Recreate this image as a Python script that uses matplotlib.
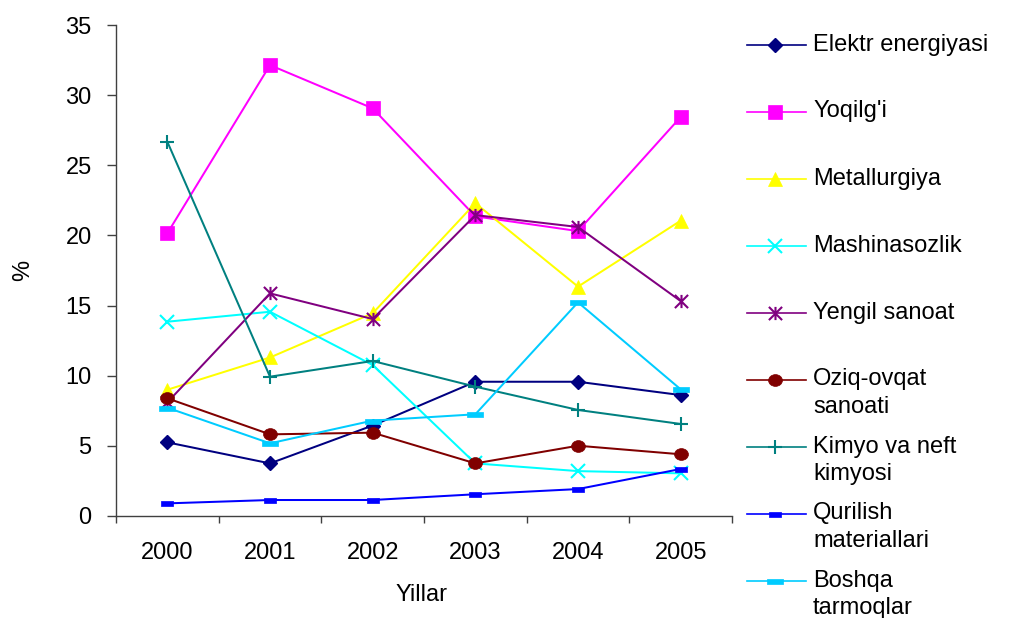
import matplotlib
matplotlib.use("Agg")
import matplotlib.pyplot as plt
from matplotlib.path import Path
import numpy as np

plt.rcParams["font.family"] = ["Liberation Sans", "DejaVu Sans"]

# Share of industry branches by year, %
years = ["2000", "2001", "2002", "2003", "2004", "2005"]
elektr = [5.25, 3.75, 6.45, 9.57, 9.57, 8.62]
yoqilgi = [20.15, 32.14, 29.06, 21.36, 20.31, 28.44]
metallurgiya = [9.0, 11.3, 14.45, 22.3, 16.35, 21.05]
mashinasozlik = [13.85, 14.56, 10.76, 3.75, 3.2, 3.04]
yengil = [8.1, 15.87, 14.04, 21.45, 20.6, 15.32]
oziq_ovqat = [8.39, 5.82, 5.94, 3.75, 5.01, 4.4]
kimyo = [26.68, 9.93, 11.05, 9.22, 7.56, 6.56]
qurilish = [0.9, 1.14, 1.14, 1.55, 1.92, 3.35]
boshqa = [7.72, 5.18, 6.8, 7.25, 15.23, 9.03]

labels = ["Elektr energiyasi", "Yoqilg'i", "Metallurgiya", "Mashinasozlik",
          "Yengil sanoat", "Oziq-ovqat\nsanoati", "Kimyo va neft\nkimyosi",
          "Qurilish\nmateriallari", "Boshqa\ntarmoqlar"]
series = [elektr, yoqilgi, metallurgiya, mashinasozlik, yengil,
          oziq_ovqat, kimyo, qurilish, boshqa]

# custom marker shapes
_c = Path.unit_circle()
ellipse = Path(_c.vertices * np.array([1.0, 0.85]), _c.codes)
rect_small = Path([(-1, -0.45), (1, -0.45), (1, 0.45), (-1, 0.45), (-1, -0.45)],
                  [Path.MOVETO, Path.LINETO, Path.LINETO, Path.LINETO, Path.CLOSEPOLY])
rect_wide = Path([(-1, -0.3), (1, -0.3), (1, 0.3), (-1, 0.3), (-1, -0.3)],
                 [Path.MOVETO, Path.LINETO, Path.LINETO, Path.LINETO, Path.CLOSEPOLY])
asterisk = Path([(-1, -1), (1, 1), (-1, 1), (1, -1), (0, -1), (0, 1)],
                [Path.MOVETO, Path.LINETO, Path.MOVETO, Path.LINETO, Path.MOVETO, Path.LINETO])

styles = [
    dict(color="#000080", marker="D", ms=6.8, mew=1.0),
    dict(color="#FF00FF", marker="s", ms=10, mew=0.5),
    dict(color="#FFFF00", marker="^", ms=9.5, mew=0.5),
    dict(color="#00FFFF", marker="x", ms=9.5, mew=1.5),
    dict(color="#800080", marker=asterisk, ms=9.5, mew=1.5),
    dict(color="#800000", marker=ellipse, ms=10, mew=0.5),
    dict(color="#008080", marker="+", ms=10, mew=1.5),
    dict(color="#0000FF", marker=rect_small, ms=8, mew=0.5),
    dict(color="#00CCFF", marker=rect_wide, ms=12, mew=0.5),
]

W, H = 1027, 618
fig = plt.figure(figsize=(W / 100, H / 100), dpi=100)
ax = fig.add_axes([116 / W, 1 - 516 / H, 616 / W, 491 / H])

x = np.arange(len(years))
for vals, st in zip(series, styles):
    c = st["color"]
    ax.plot(x, vals, color=c, lw=1.45, marker=st["marker"], ms=st["ms"],
            mfc=c, mec=c, mew=st["mew"], clip_on=False)

ax.set_xlim(-0.5, len(years) - 0.5)
ax.set_ylim(0, 35)
ax.set_yticks(np.arange(0, 36, 5))
ax.set_xticks(x)
ax.set_xticklabels(years)
ax.set_xticks(np.arange(-0.5, len(years), 1.0), minor=True)
ax.tick_params(axis="x", which="major", length=0, pad=18.5, labelsize=17)
ax.tick_params(axis="x", which="minor", length=5, width=1, color="#404040")
ax.tick_params(axis="y", length=6.5, width=1, color="#404040", pad=11, labelsize=17)
for side in ("top", "right"):
    ax.spines[side].set_visible(False)
for side in ("left", "bottom"):
    ax.spines[side].set_color("#404040")
    ax.spines[side].set_linewidth(1)

fig.text(23 / W, 1 - 270 / H, "%", rotation=90, ha="center", va="center", fontsize=17)
fig.text(422 / W, 1 - 595 / H, "Yillar", ha="center", va="center", fontsize=17)

# legend laid out in pixel space on the right
lax = fig.add_axes([0, 0, 1, 1])
lax.set_xlim(0, W)
lax.set_ylim(H, 0)
lax.axis("off")
for i, (lab, st) in enumerate(zip(labels, styles)):
    y = 45 + 67 * i
    c = st["color"]
    lax.plot([747, 806], [y, y], color=c, lw=1.2)
    lax.plot([775], [y], color=c, marker=st["marker"], ms=st["ms"], mfc=c,
             mec=c, mew=st["mew"], ls="none")
    lax.text(813, y - 11.5, lab, ha="left", va="top", fontsize=17, linespacing=1.3)

fig.savefig("out.png", dpi=100)
